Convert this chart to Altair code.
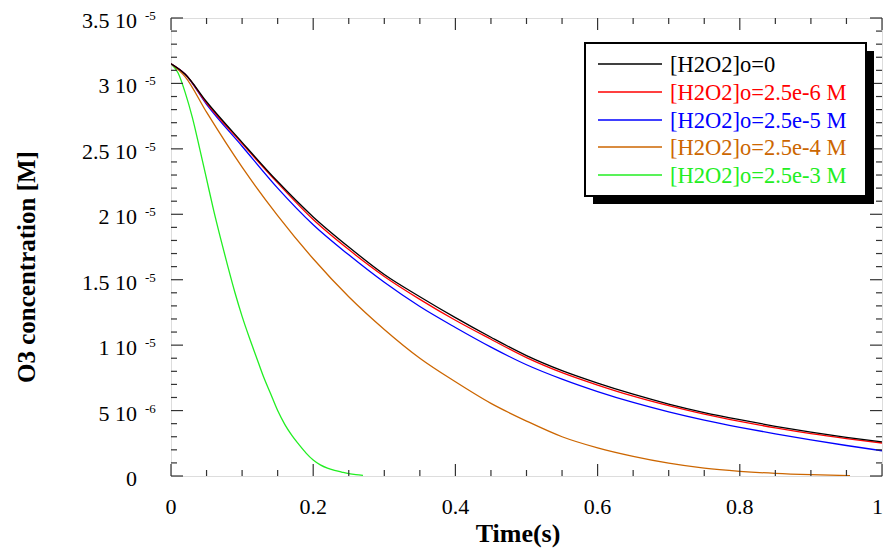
import altair as alt
import pandas as pd

# ---- data (O3 concentration in units of 1e-6 M) ----
t_main = [0, 0.02, 0.05, 0.1, 0.15, 0.2, 0.25, 0.3, 0.35, 0.4, 0.45, 0.5,
          0.55, 0.6, 0.65, 0.7, 0.75, 0.8, 0.85, 0.9, 0.95, 1.0]
o3_h0 = [31.5, 30.7, 28.6, 25.5, 22.5, 19.8, 17.5, 15.4, 13.7, 12.1, 10.6, 9.2,
         8.05, 7.1, 6.25, 5.5, 4.85, 4.3, 3.8, 3.35, 2.95, 2.6]
o3_h6 = [31.5, 30.7, 28.5, 25.4, 22.4, 19.6, 17.3, 15.25, 13.5, 11.9, 10.45, 9.05,
         7.9, 6.95, 6.1, 5.37, 4.72, 4.17, 3.68, 3.24, 2.86, 2.52]
o3_h5 = [31.5, 30.7, 28.4, 25.2, 22.0, 19.2, 16.9, 14.8, 12.95, 11.35, 9.85, 8.5,
         7.4, 6.45, 5.62, 4.9, 4.27, 3.72, 3.22, 2.76, 2.33, 1.93]
t_h4 = [0, 0.02, 0.05, 0.1, 0.15, 0.2, 0.25, 0.3, 0.35, 0.4, 0.45, 0.5,
        0.55, 0.6, 0.65, 0.7, 0.75, 0.8, 0.85, 0.9, 0.955]
o3_h4 = [31.5, 30.5, 27.8, 23.6, 19.9, 16.6, 13.7, 11.2, 9.0, 7.2, 5.55, 4.2,
         3.0, 2.15, 1.5, 0.98, 0.6, 0.36, 0.2, 0.1, 0.03]
t_h3 = [0, 0.01, 0.02, 0.03, 0.04, 0.05, 0.06, 0.07, 0.08, 0.09, 0.1, 0.11, 0.12,
        0.13, 0.14, 0.15, 0.16, 0.17, 0.18, 0.19, 0.2, 0.21, 0.22, 0.23, 0.24,
        0.25, 0.26, 0.27]
o3_h3 = [31.5, 30.8, 29.3, 27.4, 25.1, 22.7, 20.3, 18.1, 16.0, 14.0, 12.2, 10.6,
         9.1, 7.6, 6.3, 5.0, 3.95, 3.1, 2.4, 1.75, 1.22, 0.85, 0.6, 0.43, 0.3,
         0.18, 0.1, 0.05]

series_names = ["[H2O2]o=0", "[H2O2]o=2.5e-6 M", "[H2O2]o=2.5e-5 M",
                "[H2O2]o=2.5e-4 M", "[H2O2]o=2.5e-3 M"]
series_colors = ["#000000", "#ff0000", "#0000ff", "#cc6600", "#22ee22"]
series_t = [t_main, t_main, t_main, t_h4, t_h3]
series_v = [o3_h0, o3_h6, o3_h5, o3_h4, o3_h3]

x_major = [0, 0.2, 0.4, 0.6, 0.8, 1.0]
x_labels = ["0", "0.2", "0.4", "0.6", "0.8", "1"]
x_minor = [0.05, 0.1, 0.15, 0.25, 0.3, 0.35, 0.45, 0.5, 0.55, 0.65, 0.7, 0.75,
           0.85, 0.9, 0.95]
y_major = [0, 5e-6, 1e-5, 1.5e-5, 2e-5, 2.5e-5, 3e-5, 3.5e-5]
y_label_main = ["0", "5 10", "1 10", "1.5 10", "2 10", "2.5 10", "3 10", "3.5 10"]
y_label_exp = ["", "-6", "-5", "-5", "-5", "-5", "-5", "-5"]
y_minor = [k * 1e-6 for k in range(1, 35) if k % 5 != 0]

W, H = 711, 458
PAD_L, PAD_T, PAD_R, PAD_B = 163, 10, 1, 72
FONT = "Liberation Serif"

xs = alt.Scale(domain=[0, 1], nice=False, zero=False)
ys = alt.Scale(domain=[0, 3.5e-5], nice=False, zero=False)

layers = []

# ---- curves, black drawn last (on top) ----
for i in [4, 3, 2, 1, 0]:
    df = pd.DataFrame({"t": series_t[i], "c": [v * 1e-6 for v in series_v[i]]})
    layers.append(
        alt.Chart(df).mark_line(color=series_colors[i], strokeWidth=1.3,
                                interpolate="monotone", clip=True)
        .encode(x=alt.X("t:Q", scale=xs, axis=None),
                y=alt.Y("c:Q", scale=ys, axis=None))
    )

# ---- ticks (inward on all four sides) ----
dfxM = pd.DataFrame({"t": x_major})
dfxm = pd.DataFrame({"t": x_minor})
dfyM = pd.DataFrame({"c": y_major})
dfym = pd.DataFrame({"c": y_minor})
tick_color = "#333333"
for dfx, L in [(dfxM, 12), (dfxm, 6)]:
    layers.append(alt.Chart(dfx).mark_rule(color=tick_color, strokeWidth=1.2)
                  .encode(x=alt.X("t:Q", scale=xs, axis=None),
                          y=alt.value(H), y2=alt.value(H - L)))
    layers.append(alt.Chart(dfx).mark_rule(color=tick_color, strokeWidth=1.2)
                  .encode(x=alt.X("t:Q", scale=xs, axis=None),
                          y=alt.value(0), y2=alt.value(L)))
for dfy, L in [(dfyM, 12), (dfym, 6)]:
    layers.append(alt.Chart(dfy).mark_rule(color=tick_color, strokeWidth=1.2)
                  .encode(y=alt.Y("c:Q", scale=ys, axis=None),
                          x=alt.value(0), x2=alt.value(L)))
    layers.append(alt.Chart(dfy).mark_rule(color=tick_color, strokeWidth=1.2)
                  .encode(y=alt.Y("c:Q", scale=ys, axis=None),
                          x=alt.value(W), x2=alt.value(W - L)))

# ---- tick labels ----
dfxl = pd.DataFrame({"t": x_major[:-1], "lab": x_labels[:-1]})
layers.append(alt.Chart(dfxl).mark_text(font=FONT, fontSize=22, baseline="middle",
                                        align="center", color="black")
              .encode(x=alt.X("t:Q", scale=xs, axis=None), y=alt.value(H + 31),
                      text="lab:N"))
dfxl_last = pd.DataFrame({"t": x_major[-1:], "lab": x_labels[-1:]})
layers.append(alt.Chart(dfxl_last).mark_text(font=FONT, fontSize=22,
                                             baseline="middle", align="right",
                                             color="black", dx=1)
              .encode(x=alt.X("t:Q", scale=xs, axis=None), y=alt.value(H + 31),
                      text="lab:N"))
dfyl = pd.DataFrame({"c": y_major, "m": y_label_main, "e": y_label_exp})
layers.append(alt.Chart(dfyl).mark_text(font=FONT, fontSize=22, baseline="middle",
                                        align="right", color="black", dy=3)
              .encode(y=alt.Y("c:Q", scale=ys, axis=None), x=alt.value(-34),
                      text="m:N"))
layers.append(alt.Chart(dfyl).mark_text(font=FONT, fontSize=13, baseline="middle",
                                        align="left", color="black", dy=-2)
              .encode(y=alt.Y("c:Q", scale=ys, axis=None), x=alt.value(-26),
                      text="e:N"))

# ---- axis titles ----
one = pd.DataFrame({"k": [0]})
layers.append(alt.Chart(one).mark_text(text="Time(s)", font=FONT, fontSize=26,
                                       fontWeight="bold", align="center",
                                       baseline="middle", color="black")
              .encode(x=alt.value(347), y=alt.value(H + 58)))
layers.append(alt.Chart(one).mark_text(text="O3 concentration [M]", font=FONT,
                                       fontSize=25, fontWeight="bold", angle=270,
                                       align="center", baseline="middle",
                                       color="black")
              .encode(x=alt.value(-144), y=alt.value(249)))

# ---- legend box ----
bx0, bx1, by0, by1 = 414, 695, 25, 178
layers.append(alt.Chart(one).mark_rect(color="black")
              .encode(x=alt.value(bx0 + 8), x2=alt.value(bx1 + 8),
                      y=alt.value(by0 + 8), y2=alt.value(by1 + 8)))
layers.append(alt.Chart(one).mark_rect(fill="white", stroke="black", strokeWidth=2)
              .encode(x=alt.value(bx0), x2=alt.value(bx1),
                      y=alt.value(by0), y2=alt.value(by1)))
row_y = [46, 74, 102, 129, 157]
for name, col, ry in zip(series_names, series_colors, row_y):
    layers.append(alt.Chart(one).mark_rule(color=col, strokeWidth=1.3)
                  .encode(x=alt.value(427), x2=alt.value(491), y=alt.value(ry)))
    layers.append(alt.Chart(one).mark_text(text=name, font=FONT, fontSize=22.5,
                                           align="left", baseline="middle",
                                           color=col)
                  .encode(x=alt.value(499), y=alt.value(ry + 1)))

chart = (
    alt.layer(*layers)
    .properties(width=W, height=H, autosize=alt.AutoSizeParams(type="none"),
                padding={"left": PAD_L, "top": PAD_T, "right": PAD_R,
                         "bottom": PAD_B})
    .configure_view(stroke="black", strokeWidth=1.5)
    .configure(background="white")
)

chart.save("out.html", embed_options={"renderer": "svg", "actions": False})
